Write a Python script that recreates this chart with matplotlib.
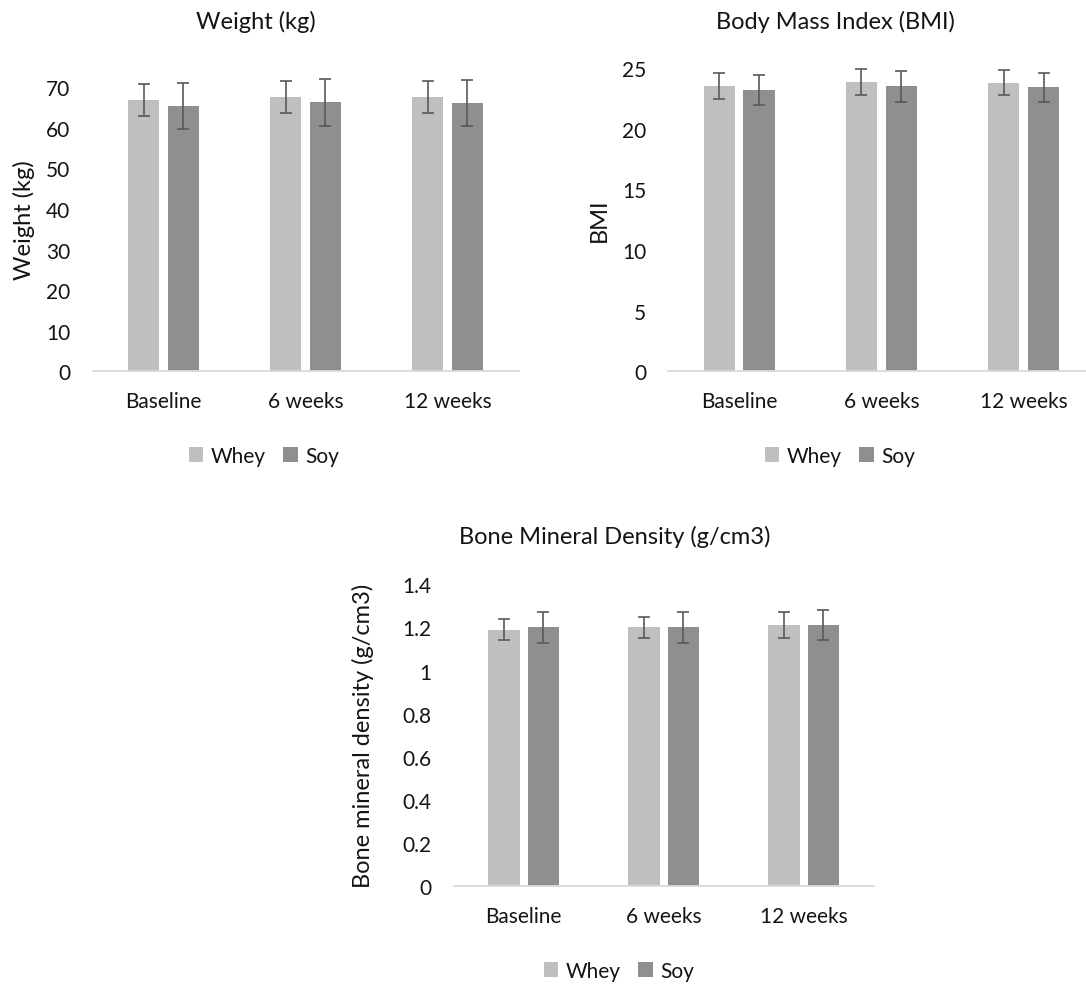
import matplotlib
matplotlib.use('Agg')
import matplotlib.pyplot as plt
import numpy as np

plt.rcParams['font.family'] = ['Lato', 'DejaVu Sans']

groups = ['Baseline', '6 weeks', '12 weeks']
series = ['Whey', 'Soy']

weight_whey = [66.9, 67.6, 67.5]
weight_whey_sd = [4.0, 4.0, 3.95]
weight_soy = [65.4, 66.3, 66.1]
weight_soy_sd = [5.6, 5.75, 5.6]

bmi_whey = [23.5, 23.85, 23.8]
bmi_whey_sd = [1.07, 1.06, 1.02]
bmi_soy = [23.2, 23.5, 23.4]
bmi_soy_sd = [1.23, 1.29, 1.22]

bmd_whey = [1.19, 1.20, 1.21]
bmd_whey_sd = [0.05, 0.05, 0.06]
bmd_soy = [1.20, 1.20, 1.21]
bmd_soy_sd = [0.07, 0.07, 0.07]

W, H = 1086, 987
LIGHT = '#BFBFBF'
DARK = '#8F8F8F'
ERR = '#595959'
AXLINE = '#D9D9D9'
TEXT = '#141414'


def box(left, right, y0, ytop):
    return [left / W, 1 - y0 / H, (right - left) / W, (y0 - ytop) / H]


def panel(rect, whey, whey_sd, soy, soy_sd, ymax, ticks, ticklabels, ylabel, labelx):
    ax = fig.add_axes(rect)
    x = np.arange(len(groups))
    err = dict(ecolor=ERR, elinewidth=1.2, capsize=4.3, capthick=1.2, clip_on=False)
    ax.bar(x - 0.1406, whey, 0.223, yerr=whey_sd, color=LIGHT, error_kw=err, label=series[0])
    ax.bar(x + 0.1406, soy, 0.223, yerr=soy_sd, color=DARK, error_kw=err, label=series[1])
    ax.set_xlim(-0.5, 2.5)
    ax.set_ylim(0, ymax)
    ax.set_yticks(ticks)
    ax.set_yticklabels(ticklabels)
    ax.set_xticks(x)
    ax.set_xticklabels(groups)
    for s in ['top', 'right', 'left']:
        ax.spines[s].set_visible(False)
    ax.spines['bottom'].set_color(AXLINE)
    ax.spines['bottom'].set_linewidth(1.3)
    ax.tick_params(axis='both', length=0, labelsize=15, colors=TEXT)
    ax.tick_params(axis='y', pad=16)
    ax.tick_params(axis='x', pad=14)
    ax.set_ylabel(ylabel, fontsize=17, color=TEXT)
    ax.yaxis.set_label_coords(labelx, 0.5)
    return ax


fig = plt.figure(figsize=(W / 100, H / 100), dpi=100)

ax1 = panel(box(92.5, 518.5, 372.3, 68.0), weight_whey, weight_whey_sd, weight_soy, weight_soy_sd,
            75, range(0, 71, 10), [str(v) for v in range(0, 71, 10)], 'Weight (kg)', -0.135)
ax2 = panel(box(668.3, 1094.6, 372.3, 69.0), bmi_whey, bmi_whey_sd, bmi_soy, bmi_soy_sd,
            25, range(0, 26, 5), [str(v) for v in range(0, 26, 5)], 'BMI', -0.137)
bmd_ticks = [0, 0.2, 0.4, 0.6, 0.8, 1.0, 1.2, 1.4]
ax3 = panel(box(453.7, 873.6, 887.3, 585.3), bmd_whey, bmd_whey_sd, bmd_soy, bmd_soy_sd,
            1.4, bmd_ticks, ['0', '0.2', '0.4', '0.6', '0.8', '1', '1.2', '1.4'],
            'Bone mineral density (g/cm3)', -0.19)

titles = [('Weight (kg)', 256, 22), ('Body Mass Index (BMI)', 835, 22),
          ('Bone Mineral Density (g/cm3)', 615, 537)]
for t, tx, ty in titles:
    fig.text(tx / W, 1 - ty / H, t, ha='center', va='center', fontsize=17, color=TEXT)

for ax, lx, ly in [(ax1, 264, 457), (ax2, 840, 457), (ax3, 619, 972)]:
    h, l = ax.get_legend_handles_labels()
    fig.legend(h, l, loc='center', bbox_to_anchor=(lx / W, 1 - ly / H), ncol=2, frameon=False,
               fontsize=15, handlelength=0.7, handleheight=0.7, handletextpad=0.35,
               columnspacing=0.85, labelcolor=TEXT)

fig.savefig('out.png', dpi=100)
